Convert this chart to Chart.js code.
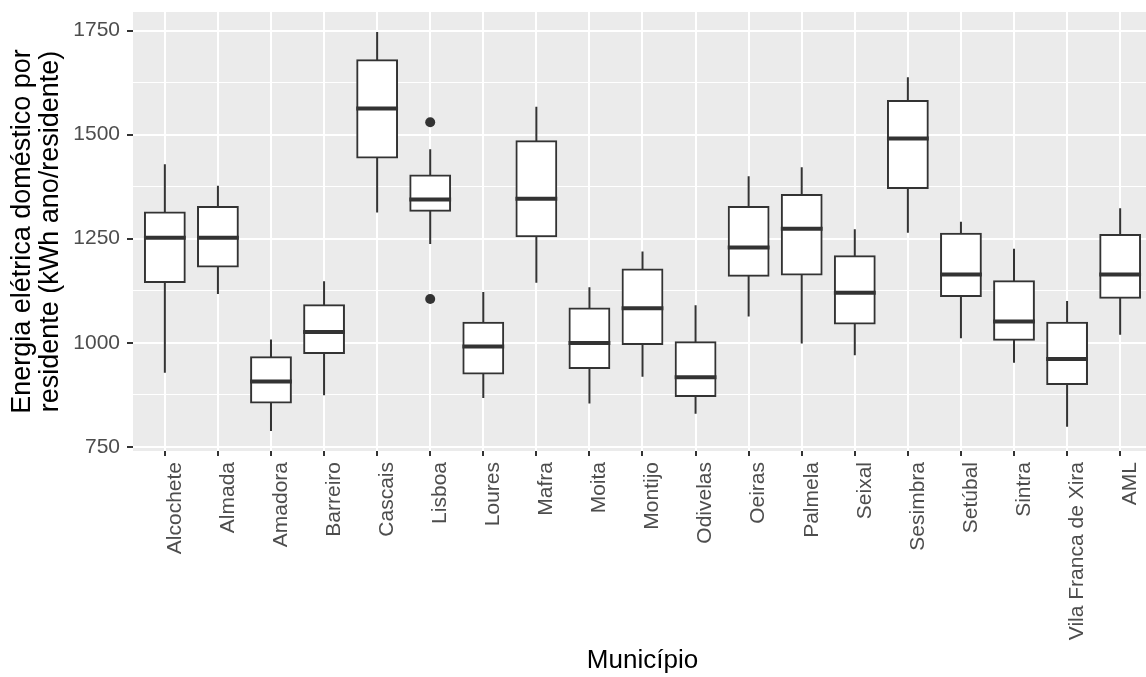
<!DOCTYPE html>
<html>
<head>
<meta charset="utf-8">
<script src="https://cdn.jsdelivr.net/npm/chart.js@4.4.0/dist/chart.umd.min.js"></script>
<style>
  html, body { margin: 0; padding: 0; background: #ffffff; overflow: hidden; }
  #wrap { width: 1157px; height: 677px; }
</style>
</head>
<body>
<div id="wrap"><canvas id="chart" width="1157" height="677"></canvas></div>
<script>
// Municipalities of the Lisbon Metropolitan Area (AML = whole area)
const categories = ['Alcochete', 'Almada', 'Amadora', 'Barreiro', 'Cascais', 'Lisboa', 'Loures', 'Mafra',
  'Moita', 'Montijo', 'Odivelas', 'Oeiras', 'Palmela', 'Seixal', 'Sesimbra', 'Setúbal', 'Sintra',
  'Vila Franca de Xira', 'AML'];

// Five-number summaries (kWh per resident per year)
const whiskerLow  = [928, 1117, 788, 874, 1313, 1237, 867, 1144, 854, 918, 829, 1063, 998, 970, 1264, 1011, 952, 798, 1019];
const q1          = [1146, 1183, 856, 975, 1445, 1317, 926, 1256, 939, 997, 872, 1161, 1164, 1046, 1372, 1112, 1007, 901, 1108];
const median      = [1252, 1252, 907, 1026, 1563, 1344, 991, 1346, 999, 1083, 917, 1229, 1274, 1120, 1491, 1164, 1051, 961, 1164];
const q3          = [1313, 1326, 965, 1090, 1679, 1402, 1048, 1484, 1082, 1176, 1001, 1326, 1355, 1208, 1581, 1262, 1148, 1048, 1259];
const whiskerHigh = [1429, 1377, 1008, 1148, 1747, 1465, 1122, 1567, 1133, 1219, 1090, 1400, 1422, 1273, 1638, 1291, 1226, 1100, 1323];

// Outliers: category index and value
const outlierIndex = [5, 5];
const outlierValue = [1530, 1105];

// Axis ticks
const yMajorTicks = [750, 1000, 1250, 1500, 1750];
const yMinorTicks = [875, 1125, 1375, 1625];

const INK = '#333333';
const BOX_HALF = 0.375;

Chart.defaults.font.family = "'Liberation Sans', Arial, sans-serif";

const panelBackground = {
  id: 'panelBackground',
  beforeDraw(chart) {
    const { ctx, chartArea: a } = chart;
    ctx.save();
    ctx.fillStyle = '#EBEBEB';
    ctx.fillRect(a.left, a.top, a.right - a.left, a.bottom - a.top);
    ctx.restore();
  }
};

const boxExtras = {
  id: 'boxExtras',
  beforeDatasetsDraw(chart) {
    const { ctx, scales: { x, y } } = chart;
    ctx.save();
    ctx.strokeStyle = INK;
    ctx.lineWidth = 2;
    ctx.lineCap = 'butt';
    categories.forEach((_, i) => {
      const px = x.getPixelForValue(i);
      ctx.beginPath();
      ctx.moveTo(px, y.getPixelForValue(whiskerLow[i]));
      ctx.lineTo(px, y.getPixelForValue(q1[i]));
      ctx.moveTo(px, y.getPixelForValue(q3[i]));
      ctx.lineTo(px, y.getPixelForValue(whiskerHigh[i]));
      ctx.stroke();
    });
    ctx.restore();
  },
  afterDatasetsDraw(chart) {
    const { ctx, scales: { x, y } } = chart;
    ctx.save();
    ctx.strokeStyle = INK;
    ctx.lineWidth = 4;
    ctx.lineCap = 'butt';
    categories.forEach((_, i) => {
      const py = y.getPixelForValue(median[i]);
      ctx.beginPath();
      ctx.moveTo(x.getPixelForValue(i - BOX_HALF) - 1, py);
      ctx.lineTo(x.getPixelForValue(i + BOX_HALF) + 1, py);
      ctx.stroke();
    });
    ctx.restore();
  }
};

new Chart(document.getElementById('chart'), {
  type: 'bar',
  data: {
    datasets: [
      {
        type: 'bar',
        data: categories.map((_, i) => ({ x: i, y: [q1[i], q3[i]] })),
        backgroundColor: '#FFFFFF',
        borderColor: INK,
        borderWidth: 2,
        borderSkipped: false,
        inflateAmount: 1,
        categoryPercentage: 1,
        barPercentage: 0.75
      },
      {
        type: 'scatter',
        data: outlierIndex.map((c, i) => ({ x: c, y: outlierValue[i] })),
        pointRadius: 5,
        pointBackgroundColor: INK,
        pointBorderWidth: 0,
        showLine: false
      }
    ]
  },
  options: {
    responsive: false,
    animation: false,
    devicePixelRatio: 1,
    layout: { padding: { top: 12, left: 0, right: 0, bottom: 0 } },
    plugins: { legend: { display: false }, tooltip: { enabled: false } },
    scales: {
      x: {
        type: 'linear',
        min: -0.6,
        max: 18.6,
        offset: false,
        border: { display: false },
        grid: { offset: false, color: '#FFFFFF', lineWidth: 2, tickColor: INK, tickWidth: 2, tickLength: 5 },
        afterBuildTicks(s) { s.ticks = categories.map((_, i) => ({ value: i })); },
        afterFit(s) { s.height = 226; s.paddingLeft = 0; s.paddingRight = 0; },
        ticks: {
          autoSkip: false,
          maxRotation: 90,
          minRotation: 90,
          padding: 6,
          labelOffset: 10,
          color: '#4D4D4D',
          font: { size: 21 },
          callback: (v) => categories[v]
        },
        title: {
          display: true,
          text: 'Município',
          color: '#000000',
          font: { size: 26, lineHeight: 1.15 },
          padding: { top: 0, bottom: 1 }
        }
      },
      y: {
        type: 'linear',
        min: 739.7,
        max: 1794.9,
        border: { display: false },
        grid: {
          color: '#FFFFFF',
          lineWidth: (c) => (yMajorTicks.includes(c.tick.value) ? 2 : 1),
          tickColor: (c) => (yMajorTicks.includes(c.tick.value) ? INK : 'rgba(0,0,0,0)'),
          tickWidth: 2,
          tickLength: 6
        },
        afterBuildTicks(s) {
          s.ticks = [...yMajorTicks, ...yMinorTicks].sort((a, b) => a - b).map((v) => ({ value: v }));
        },
        afterFit(s) { s.width = 133; s.paddingTop = 0; s.paddingBottom = 0; },
        ticks: {
          padding: 7,
          color: '#4D4D4D',
          font: { size: 21 },
          callback: (v) => (yMajorTicks.includes(v) ? String(v) : '')
        },
        title: {
          display: true,
          text: ['Energia elétrica doméstico por', 'residente (kWh ano/residente)'],
          color: '#000000',
          font: { size: 27, lineHeight: 1.05 },
          padding: { top: 8, bottom: 0 }
        }
      }
    }
  },
  plugins: [panelBackground, boxExtras]
});
</script>
</body>
</html>
